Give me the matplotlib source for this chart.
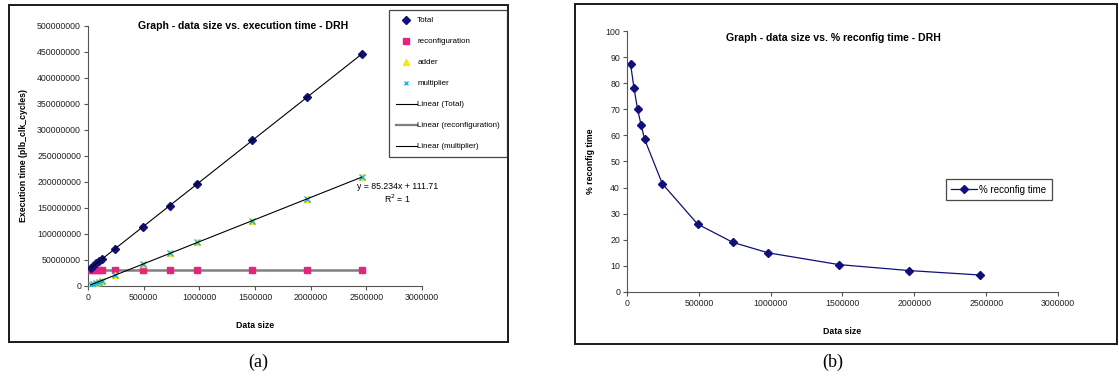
import numpy as np
import matplotlib.pyplot as plt
from matplotlib.patches import Rectangle
from matplotlib.lines import Line2D

# data size (words) used in every run
data_size = [24576, 49152, 73728, 98304, 122880, 245760, 491520,
             737280, 983040, 1474560, 1966080, 2457600]

# execution time in plb_clk_cycles
total = [35.0e6, 39.2e6, 43.4e6, 47.6e6, 51.8e6, 70.5e6, 112.7e6,
         154.0e6, 196.5e6, 280.5e6, 362.5e6, 446.0e6]
reconfiguration = [30.7e6] * 12
adder = [2.1e6, 4.2e6, 6.3e6, 8.4e6, 10.5e6, 21.0e6, 42.0e6,
         63.0e6, 84.0e6, 125.5e6, 167.5e6, 209.0e6]
multiplier = [2.1e6, 4.2e6, 6.3e6, 8.4e6, 10.5e6, 21.0e6, 42.0e6,
              63.0e6, 84.0e6, 125.5e6, 167.5e6, 209.0e6]

# share of reconfiguration in total time (%)
pct_reconfig = [87.5, 78.0, 70.0, 64.0, 58.5, 41.5, 26.0, 19.0, 15.0, 10.5, 8.2, 6.5]

plt.rcParams['font.family'] = ['Liberation Sans', 'DejaVu Sans']
FS = 6.3

fig = plt.figure(figsize=(11.19, 3.79), dpi=100)

# panel frames
for x0, y0, w, h in [(0.008, 0.0976, 0.446, 0.889), (0.5139, 0.0924, 0.4844, 0.897)]:
    fig.patches.append(Rectangle((x0, y0), w, h, transform=fig.transFigure,
                                 fill=False, ec='#1a1a1a', lw=1.4))


def style_axes(ax):
    for s in ['top', 'right']:
        ax.spines[s].set_visible(False)
    for s in ['left', 'bottom']:
        ax.spines[s].set_color('#555555')
        ax.spines[s].set_linewidth(0.8)
    ax.tick_params(labelsize=FS, length=3, width=0.8, color='#555555', pad=2,
                   labelcolor='#222222')
    ax.set_facecolor('none')


x = np.array(data_size, dtype=float)
xs = np.array([x[0], x[-1]])

# ---- (a) execution time
ax1 = fig.add_axes([0.0786, 0.2454, 0.2985, 0.686])
style_axes(ax1)

fits = {}
for name, y in [('Total', total), ('reconfiguration', reconfiguration), ('multiplier', multiplier)]:
    fits[name] = np.polyfit(x, np.array(y), 1)

ax1.plot(xs, np.polyval(fits['reconfiguration'], xs), color='#7f7f7f', lw=1.8, zorder=2)
ax1.plot(data_size, reconfiguration, 's', color='#e8237d', ms=4.2, mec='#e8237d', zorder=3)
ax1.plot(data_size, adder, '^', color='#ffe600', ms=4.0, zorder=3)
ax1.plot(data_size, multiplier, 'x', color='#1eb4e6', ms=3.8, mew=1.0, zorder=4)
ax1.plot(data_size, total, 'D', color='#10107a', ms=3.8, zorder=4)
ax1.plot(xs, np.polyval(fits['Total'], xs), color='black', lw=0.8, zorder=5)
ax1.plot(xs, np.polyval(fits['multiplier'], xs), color='black', lw=0.8, zorder=5)

ax1.set_xlim(0, 3000000)
ax1.set_ylim(0, 500000000)
ax1.set_xticks(np.arange(0, 3000001, 500000))
ax1.set_yticks(np.arange(0, 500000001, 50000000))
ax1.xaxis.set_major_formatter(plt.FuncFormatter(lambda v, p: f'{int(v)}'))
ax1.yaxis.set_major_formatter(plt.FuncFormatter(lambda v, p: f'{int(v)}'))
ax1.text(0.465, 1.0, 'Graph - data size vs. execution time - DRH', transform=ax1.transAxes,
         fontsize=7.6, fontweight='bold', ha='center', va='center')
ax1.set_xlabel('Data size', fontsize=FS, fontweight='bold', labelpad=14)
ax1.set_ylabel('Execution time (plb_clk_cycles)', fontsize=FS, fontweight='bold')
ax1.yaxis.set_label_coords(-0.18, 0.5)

ax1.text(0.927, 0.383, 'y = 85.234x + 111.71', transform=ax1.transAxes,
         fontsize=FS, ha='center', va='center')
ax1.text(0.927, 0.335, 'R$^2$ = 1', transform=ax1.transAxes,
         fontsize=FS, ha='center', va='center')

handles = [
    Line2D([], [], ls='none', marker='D', color='#10107a', ms=3.8),
    Line2D([], [], ls='none', marker='s', color='#e8237d', ms=4.2),
    Line2D([], [], ls='none', marker='^', color='#ffe600', ms=4.5),
    Line2D([], [], ls='none', marker='x', color='#1eb4e6', ms=3.5, mew=1.0),
    Line2D([], [], color='black', lw=0.8),
    Line2D([], [], color='#7f7f7f', lw=1.6),
    Line2D([], [], color='black', lw=0.8),
]
labels = ['Total', 'reconfiguration', 'adder', 'multiplier',
          'Linear (Total)', 'Linear (reconfiguration)', 'Linear (multiplier)']
leg1 = fig.legend(handles, labels, loc='upper left', bbox_to_anchor=(0.3476, 0.974),
                  fontsize=5.8, frameon=True, fancybox=False, edgecolor='#1a1a1a',
                  handlelength=2.6, handletextpad=0.05, labelspacing=1.66,
                  borderpad=0.85, borderaxespad=0)
leg1.get_frame().set_linewidth(0.9)

# ---- (b) reconfiguration share
ax2 = fig.add_axes([0.5603, 0.2296, 0.3852, 0.6886])
style_axes(ax2)
ax2.plot(data_size, pct_reconfig, '-D', color='#10107a', lw=0.9, ms=3.8,
         label='% reconfig time')
ax2.set_xlim(0, 3000000)
ax2.set_ylim(0, 100)
ax2.set_xticks(np.arange(0, 3000001, 500000))
ax2.set_yticks(np.arange(0, 101, 10))
ax2.xaxis.set_major_formatter(plt.FuncFormatter(lambda v, p: f'{int(v)}'))
ax2.text(0.478, 0.975, 'Graph - data size vs. % reconfig time - DRH', transform=ax2.transAxes,
         fontsize=7.6, fontweight='bold', ha='center', va='center')
ax2.set_xlabel('Data size', fontsize=FS, fontweight='bold', labelpad=14)
ax2.set_ylabel('% reconfig time', fontsize=FS, fontweight='bold')
ax2.yaxis.set_label_coords(-0.075, 0.5)
leg2 = ax2.legend(loc='upper left', bbox_to_anchor=(0.74, 0.431), fontsize=7,
                  frameon=True, fancybox=False, edgecolor='#1a1a1a',
                  handlelength=2.6, handletextpad=0.3, borderpad=0.55, borderaxespad=0)
leg2.get_frame().set_linewidth(0.9)

# captions
fig.text(0.2306, 0.045, '(a)', fontsize=13, family='Liberation Serif', ha='center', va='center')
fig.text(0.7444, 0.045, '(b)', fontsize=13, family='Liberation Serif', ha='center', va='center')

fig.savefig('out.png', dpi=100)
